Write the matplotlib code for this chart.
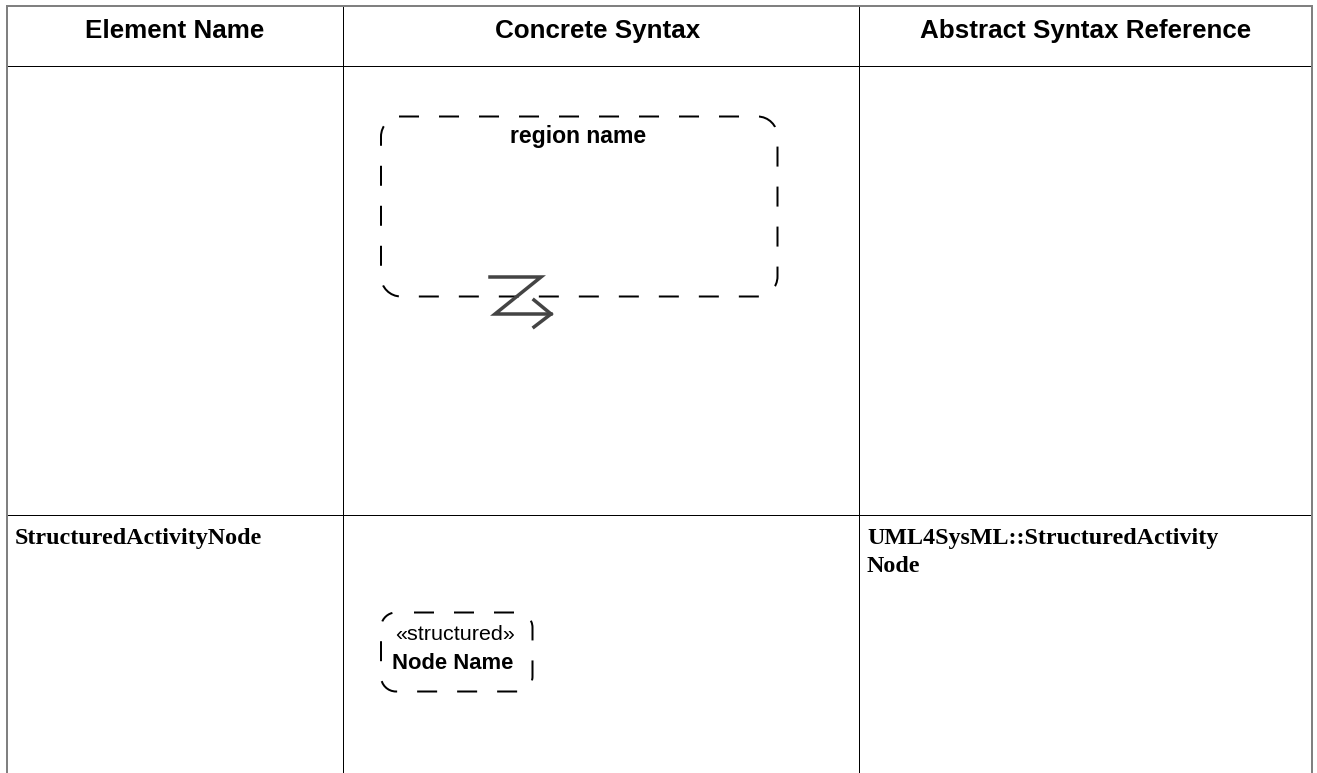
import matplotlib
matplotlib.use('Agg')
import matplotlib.pyplot as plt
import numpy as np
from matplotlib.path import Path
from matplotlib.patches import PathPatch

plt.rcParams['lines.scale_dashes'] = False

WIDTH = 1317
HEIGHT = 773
PX = 72 / 100  # one pixel in points

# table layout, pixels
col_lines = [342.5, 858.5]
table_left = 7
table_right = 1311.5
table_top = 6
header_bottom = 65.5
row_line = 514.5

headers = ['Element Name', 'Concrete Syntax', 'Abstract Syntax Reference']
header_x = [175, 598, 1086]
header_y = 38

names = ['StructuredActivityNode']
name_y = 544
refs = ['UML4SysML::StructuredActivity', 'Node']
ref_y = [544, 572]

# diagrams: left, top, right, bottom, radius
region_box = [381, 116.5, 777.5, 296.5, 20]
node_box = [381, 612.5, 532.5, 691.5, 15]
# interruptible region bolt
bolt_x = [490, 541, 495, 551]
bolt_y = [277, 277, 314, 314]
head_x = [534, 551, 534]
head_y = [300, 314, 327]


def rounded_path(left, top, right, bottom, r, start_x, end_t=1.0):
    # clockwise from a point on the top edge so the dashes fall in the same place
    # end_t cuts the last corner short, the outline has a gap there
    k = 0.5523 * r
    p0 = np.array([left, top + r])
    p1 = np.array([left, top + r - k])
    p2 = np.array([left + r - k, top])
    p3 = np.array([left + r, top])
    a = p0 + (p1 - p0) * end_t
    b = p1 + (p2 - p1) * end_t
    c = p2 + (p3 - p2) * end_t
    d = a + (b - a) * end_t
    e = b + (c - b) * end_t
    f = d + (e - d) * end_t
    verts = [(start_x, top), (right - r, top),
             (right - r + k, top), (right, top + r - k), (right, top + r),
             (right, bottom - r),
             (right, bottom - r + k), (right - r + k, bottom), (right - r, bottom),
             (left + r, bottom),
             (left + r - k, bottom), (left, bottom - r + k), (left, bottom - r),
             tuple(p0),
             tuple(a), tuple(d), tuple(f)]
    codes = [Path.MOVETO, Path.LINETO,
             Path.CURVE4, Path.CURVE4, Path.CURVE4,
             Path.LINETO,
             Path.CURVE4, Path.CURVE4, Path.CURVE4,
             Path.LINETO,
             Path.CURVE4, Path.CURVE4, Path.CURVE4,
             Path.LINETO,
             Path.CURVE4, Path.CURVE4, Path.CURVE4]
    return Path(np.array(verts), codes)


fig = plt.figure(figsize=(WIDTH / 100, HEIGHT / 100), dpi=100)
ax = fig.add_axes([0, 0, 1, 1])
ax.set_xlim(0, WIDTH)
ax.set_ylim(HEIGHT, 0)
ax.axis('off')

# table grid
for x in col_lines:
    ax.plot([x, x], [table_top, HEIGHT], color='black', lw=1 * PX)
for y in [header_bottom, row_line]:
    ax.plot([table_left, table_right], [y, y], color='black', lw=1 * PX)
ax.plot([table_left, table_right], [table_top, table_top], color='#808080', lw=2 * PX)
ax.plot([table_left, table_left], [table_top, HEIGHT], color='#808080', lw=2 * PX)
ax.plot([table_right, table_right], [table_top, HEIGHT], color='#808080', lw=2 * PX)

for x, label in zip(header_x, headers):
    ax.text(x, header_y, label, family='Liberation Sans', weight='bold',
            fontsize=26 * PX, ha='center', va='baseline', color='black')

ax.text(15, name_y, names[0], family='Liberation Serif', weight='bold',
        fontsize=24 * PX, ha='left', va='baseline', color='black')
for y, line in zip(ref_y, refs):
    ax.text(867, y, line, family='Liberation Serif', weight='bold',
            fontsize=24 * PX, ha='left', va='baseline', color='black')

# region box
dash = (0, (20 * PX, 20 * PX))
ax.add_patch(PathPatch(rounded_path(*region_box, 399, end_t=0.5), fill=False, ec='black',
                       lw=2 * PX, ls=dash, capstyle='butt'))
ax.text(578.5, 143.5, 'region name', family='Liberation Sans', weight='bold',
        fontsize=23 * PX, ha='center', va='baseline', color='black')
ax.plot(bolt_x, bolt_y, color='#444444', lw=3.5 * PX, solid_joinstyle='miter')
ax.plot(head_x, head_y, color='#444444', lw=3.5 * PX, solid_joinstyle='miter')

# structured node
ax.add_patch(PathPatch(rounded_path(*node_box, 414, end_t=0.85), fill=False, ec='black',
                       lw=2 * PX, ls=dash, capstyle='butt'))
ax.text(455, 640, '«structured»', family='Liberation Sans',
        fontsize=21.5 * PX, ha='center', va='baseline', color='black')
ax.text(452.5, 669, 'Node Name', family='Liberation Sans', weight='bold',
        fontsize=22 * PX, ha='center', va='baseline', color='black')

fig.savefig('out.png', dpi=100)
